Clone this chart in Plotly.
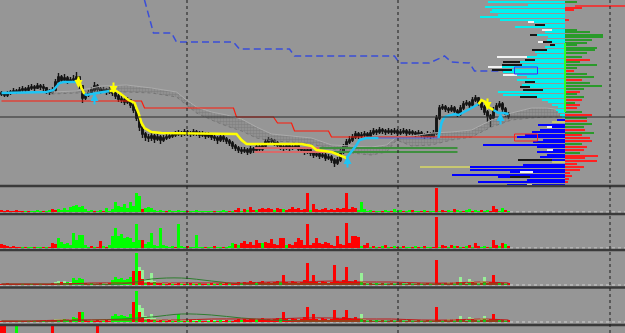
import plotly.graph_objects as go

BG = "#969696"

# ---------------- price bars (price units; bars every 3 time units) ----------------
first_open = 107
closes = [106,105,107,108,109,108,110,111,110,112,
          113,112,114,113,112,109,108,110,118,123,
          120,122,119,120,121,123,114,102,105,107,
          110,114,111,109,110,108,110,107,104,101,
          100,98,100,95,90,82,73,66,63,62,
          64,61,63,60,62,63,64,65,66,67,
          66,68,67,66,68,67,65,66,64,65,
          63,62,60,63,61,59,57,54,52,50,
          49,50,48,51,50,53,51,54,58,60,
          59,57,55,53,52,54,52,53,54,51,
          50,48,50,47,45,46,44,45,42,43,
          40,37,40,48,53,58,60,63,66,64,
          65,66,64,67,69,68,70,69,68,69,
          68,69,67,68,69,67,68,67,66,67,
          65,64,66,64,67,82,92,93,91,90,
          92,89,86,92,96,97,95,100,102,97,
          93,88,84,82,90,94,96,91,86,84]
highs = [109,108,109,110,112,111,113,114,113,115,
         116,115,117,116,116,113,111,113,121,127,
         125,126,124,123,125,128,124,115,107,110,
         113,118,116,113,113,112,113,112,109,106,
         104,102,103,101,97,91,84,75,68,66,
         67,66,66,65,65,66,67,68,69,70,
         69,71,70,69,71,70,69,69,68,68,
         67,66,64,66,65,63,61,59,56,54,
         53,53,52,54,53,56,55,57,61,63,
         62,61,59,57,56,57,56,56,57,56,
         53,52,53,52,49,49,48,48,47,46,
         45,42,43,51,56,61,64,66,69,68,
         68,69,68,70,72,71,73,72,71,72,
         71,72,71,71,72,71,71,70,69,70,
         69,67,69,68,70,85,95,96,95,93,
         95,94,91,95,99,100,99,103,105,103,
         99,95,90,86,93,97,99,98,93,88]
lows = [104,103,103,105,106,106,107,108,107,109,
        110,109,111,110,109,106,105,106,108,116,
        117,118,116,117,118,119,111,97,100,103,
        105,108,108,106,107,105,106,104,101,98,
        97,95,96,92,87,79,69,62,59,58,
        59,57,59,56,58,60,61,62,63,64,
        63,64,64,63,64,64,62,63,61,62,
        60,59,56,58,58,56,54,51,49,47,
        46,47,45,46,47,48,48,49,52,56,
        56,54,52,50,49,50,49,50,51,48,
        47,45,46,44,42,43,41,42,39,40,
        37,33,35,38,46,51,56,58,61,61,
        62,63,61,62,65,65,66,66,65,66,
        65,66,64,65,66,64,65,64,63,64,
        62,61,62,61,62,65,80,90,88,87,
        88,86,83,84,90,94,92,93,98,94,
        90,85,78,73,80,88,92,88,83,81]

# ---------------- volume panes (signed: + green / - red) ----------------
vol1 = [-2,-1,-2,-1,-1,-2,-1,-1,1,-1, 1,1,2,1,-1,1,2,-3,-2,3, 2,4,2,5,6,7,5,6,3,1,
        2,-1,1,2,-1,4,1,3,10,6, 5,8,4,10,6,19,16,-3,4,5, 4,2,1,2,1,-1,2,1,1,2,
        1,1,-1,1,1,2,1,1,1,1, 1,-1,1,1,2,1,-1,1,-2,-4, 1,-3,2,-5,-2,2,-3,-4,-3,-4,
        -3,2,-4,-3,3,-2,-3,-5,-3,-4, -2,-3,-19,2,-8,-3,-2,-3,-4,-2, -3,-2,-4,-3,-4,-19,-3,-5,-4,2,
        10,3,1,2,-1,1,1,-1,2,1, -1,3,1,2,-1,1,2,-2,1,1, -1,2,-1,1,1,-24,1,-2,-1,2,
        1,-3,2,1,-1,2,3,-1,2,1, -2,1,2,-1,-6,-3,1,4,-2,1]
vol2 = [-4,-3,-2,-1,-2,-1,-1,1,-1,1, 1,-1,1,1,-1,1,-1,-5,-4,10, 6,4,5,3,15,8,13,13,3,1,
        -2,1,-1,-7,2,-1,3,12,20,12, 14,10,11,10,6,24,8,-8,4,6, 15,3,2,20,3,2,1,2,-1,24,
        2,1,-2,1,1,13,1,1,-1,1, 1,-2,1,1,-1,1,2,5,-4,3, -5,-7,-4,-6,-3,-8,-5,5,-6,-5,
        -9,-4,-3,-10,-10,3,-4,-3,-6,-10, -8,-3,-24,-3,-5,-10,-5,-4,-6,-5, -3,-2,-12,-4,-3,-25,-5,-12,-12,-11,
        2,-3,-5,1,-2,1,-1,2,-3,1, -1,2,-1,1,-2,1,1,-1,2,-1, 1,-2,1,1,-1,-31,1,-3,-2,1,
        -3,2,-2,1,-1,2,-3,1,-5,-2, 1,2,-1,1,-8,-3,2,-5,4,-2]
vol3 = [-1,-1,-2,-1,-1,-1,-1,1,-1,-1, 1,-1,-1,1,-1,-1,-1,-2,-1,2, -3,2,3,-2,7,5,7,6,-2,-1,
        2,-1,-1,-2,1,-1,-2,5,8,6, 7,5,6,8,-14,32,-14,-6,2,-3, -2,3,-2,-2,1,-1,-2,1,-1,-2,
        1,-1,1,-2,1,-1,2,-1,-1,1, -2,1,-1,2,-1,-2,1,-1,-2,-3, 2,-3,-2,-4,-3,2,-3,-4,-2,-3,
        -2,-3,-4,3,-10,-3,-2,-4,-3,-2, -3,-5,-22,-3,-10,-3,-2,-4,-3,-2, -3,-20,-4,-3,-5,-18,-4,-3,-5,-3,
        3,-2,1,-2,-1,2,-1,-2,1,-1, -2,1,-1,-2,1,-1,-2,1,-1,-2, 1,-1,-2,1,-1,-25,-2,1,-2,-1,
        -2,1,-3,2,-2,-1,2,-3,-2,1, -2,3,-2,-3,-10,-3,2,-2,1,-2]
vol3_light = [1,1,1,1,0,1,1,1,1,1, 1,1,1,1,1,1,1,2,3,4, 3,4,2,3,4,3,4,3,2,2,
              2,2,1,2,2,2,2,3,4,3, 4,3,3,4,5,10,18,15,6,5, 12,4,3,3,2,2,3,2,2,2,
              2,2,2,1,2,2,2,1,1,2, 1,2,1,1,2,1,1,1,2,2, 2,2,2,2,2,3,2,2,2,2,
              2,2,3,2,2,2,2,2,2,2, 2,2,3,2,3,2,2,2,2,2, 2,10,3,2,2,3,2,2,2,3,
              12,3,2,2,2,2,2,2,2,1, 2,2,1,2,2,2,1,2,2,2, 2,2,2,2,2,3,2,2,2,3,
              2,3,3,8,3,3,6,4,3,3, 4,8,3,3,3,3,2,2,2,2]
vol4 = [-1,-1,-1,-1,-1,-1,1,-1,-1,1, -1,1,-1,-1,1,-1,-1,-2,-2,2, -2,3,2,-2,5,4,-10,10,-2,-1,
        1,-1,-2,-1,1,-2,-1,6,8,6, 7,6,5,8,-20,31,-10,-5,2,-3, -2,2,-1,-2,1,-1,-2,1,-1,8,
        1,-1,1,-2,1,-1,2,-1,-1,1, -2,1,-1,2,-1,-2,1,-1,-2,-3, 2,-3,-2,-3,-3,2,-3,-4,-2,-3,
        -2,-3,-4,3,-10,-3,-2,-4,-3,-2, -3,-5,-15,-3,-8,-3,-2,-4,-3,-2, -3,-12,-4,-3,-5,-12,-4,-3,-5,-3,
        3,-2,1,-2,-1,2,-1,-2,1,-1, -2,1,-1,-2,1,-1,-2,1,-1,-2, 1,-1,-2,1,-1,-15,-2,1,-2,-1,
        -2,1,-3,2,-2,-1,2,-3,-2,1, -2,3,-2,-3,-8,-3,2,-2,1,-2]
vol4_light = [1,1,1,1,1,1,1,1,1,1, 1,1,1,1,1,1,1,2,3,3, 3,3,2,3,4,3,4,3,2,2,
              2,2,1,2,2,2,2,3,4,3, 4,3,3,4,5,9,17,14,6,5, 8,4,3,3,2,2,3,2,2,2,
              2,2,2,1,2,2,2,1,1,2, 1,2,1,1,2,1,1,1,2,2, 2,2,2,2,2,3,2,2,2,2,
              2,2,3,2,2,2,2,2,2,2, 2,2,3,2,3,2,2,2,2,2, 2,7,3,2,2,3,2,2,2,3,
              8,3,2,2,2,2,2,2,2,1, 2,2,1,2,2,2,1,2,2,2, 2,2,2,2,2,3,2,2,2,3,
              2,3,3,6,3,3,5,4,3,3, 4,6,3,3,3,3,2,2,2,2]
ma_t = [0,30,60,90,120,150,180,210,240,270,300,330,360,390,420,450,480,507]
ma3_green = [1,1,1,1,1,6,7,4,1,1,1,1,1,1,1,1,1,1]
ma3_red = [1,1,1,2,2,2,2,2,2,3,3,4,3,3,2,2,3,2]
ma4_green = [1,1,1,2,3,5,8,7,4,2,1,1,1,1,1,1,1,1]
ma4_red = [1,1,2,2,2,2,2,3,3,3,4,4,3,3,2,2,3,2]
p5_t = [0, 3, 15, 51, 96]
p5_v = [-8, -8, 8, -8, -8]

# ---------------- indicators on price pane ----------------
cloud_t = [50,75,100,125,150,175,185,195,210,225,240,255,270,290,310,330,350,370,385,395,410,430,450,470,490,510,530,545,560]
cloud_top = [108,109,114,115,112,108,100,93,88,85,81,73,66,64,62,55,54,53,55,63,64,67,68,70,80,87,92,92,90]
cloud_bot = [106,107,108,108,107,103,95,87,80,74,69,62,59,58,56,51,47,45,48,60,54,55,60,63,73,80,82,83,83]

trend_t = [0,45,52,58,62,75, 77,80,83, 85,90,100,108,
           113,118,127,133,137,140,143,150,160,235,240,245,300,310,315,330,337,345,
           350,355,358,365,377, 437, 440,443,453,457,463,470,477, 480,484,487,492, 497,502,507]
trend_p = [107,108,110,117,118,118, 121,112,106, 105,106,108,109,
           110,107,100,97,87,77,72,68,67,66,60,56,56,54,50,48,45,42,
           48,55,60,62,62, 62, 77,83,86,85,88,92,96, 100,98,93,90, 87,87,86]
trend_c = ["c"]*6 + ["y"]*3 + ["c"]*4 + ["y"]*18 + ["c"]*5 + ["b"] + ["c"]*7 + ["y"]*4 + ["c"]*3

arrow_t = [77, 112, 486, 93, 346, 499]
arrow_p = [112, 106, 90, 107, 44, 87]
arrow_up = [False, False, False, True, True, True]

red_t = [0,140,143,232,235,272,276,290,293,327,330,520]
red_p = [99,99,92,92,83,83,77,77,69,69,63,63]
blue_t = [143,152,170,175,232,238,288,293,393,398,428,443,450,468,473,512]
blue_p = [200,167,167,158,158,151,151,144,144,137,137,144,138,137,129,129]
order_levels = [52, 48]
salmon_t = [[253, 318], [253, 332]]
green_t = [[318, 456], [332, 456]]
last_price = 83
separators_t = [185.5, 396.5, 608.5]

# ---------------- volume profile ----------------
prof_p = [198,195.5,193,190.5,188,185.5,183,180.5,178,175.5,173,170.5,168,165.5,163,160.5,158,155.5,153,150.5,
          148,145.5,143,140.5,138,135.5,133,130.5,128,125.5,123,120.5,118,115.5,113,110.5,108,105.5,103,100.5,
          98,95.5,93,90.5,88,85.5,83,80.5,78,75.5,73,70.5,68,65.5,63,60.5,58,55.5,53,50.5,
          48,45.5,43,40.5,38,35.5,33,30.5,28,25.5,23,20.5,18,15.5]
prof_len = [77,37,80,73,75,67,85,65,37,30, 50,23,20,35,17,18,27,15,20,33,
            30,28,68,40,62,63,77,73,62,62, 38,48,40,43,45,42,67,62,45,23,
            17,13,7,9,7,5,3,8,13,27, 18,25,33,40,48,22,32,82,28,18,
            28,18,25,47,13,42,145,95,55,113, 67,38,87,58]
value_split = 82
mark_p = [178,175.5,170.5,165.5,158,158,155.5,150.5,143,140.5,138,135.5,133,130.5,125.5,118,113,110.5,103,78,
          73,50.5,40.5,38,33,28,23,15.5]
mark_base = [31,20,13,28,22,13,10,18,38,30,45,43,63,53,48,30,35,22,28,0,13,12,13,0,95,32,35,33]
mark_len = [6,10,10,7,5,9,5,15,30,10,17,20,14,20,14,10,10,20,17,13,5,6,34,13,50,13,20,5]
mark_col = list("wkwkwkkkwkkkwkwkkkkywwkyywkw")

rp_p = [198,192,190,180,170,168,165,163,160,157,155,152,150,147,143,140,138,135,132,129,
        126,123,120,117,114,111,108,106,103,100,97,95,92,88,85,82,79,76,73,70,
        67,65,62,59,56,53,50,47,44,42,39,36,33,30,27,24,21,18]
rp_len = [12,17,9,4,12,25,38,38,27,22,12,32,30,22,17,25,15,32,12,9,
          22,29,17,25,37,19,15,12,19,17,10,15,12,17,27,22,22,27,19,20,
          29,17,25,27,17,22,19,15,33,20,32,12,19,15,5,7,4,3]
rp_col = list("grrrgggggggggggrgggrggrgggrggrgrrgrgrggrgrrrgrrgrrrrrrrrrr")
poc_span = [88, 157]
high_line = 194

# ---------------- build ----------------
N = len(closes)
bar_time = [3 * i for i in range(N)]
opens = [first_open] + closes[:-1]
GREEN, RED, LIGHT = "#00ff00", "#ff0000", "#98f098"
BW = 2.6

fig = go.Figure()

# Ichimoku-like cloud
fig.add_trace(go.Scatter(x=cloud_t, y=cloud_bot, mode="lines",
                         line=dict(color="#767676", width=1, dash="dot"), hoverinfo="skip"))
fig.add_trace(go.Scatter(x=cloud_t, y=cloud_top, mode="lines",
                         line=dict(color="#ababab", width=1), fill="tonexty",
                         fillcolor="rgba(150,150,150,0)",
                         fillpattern=dict(shape=".", fgcolor="#6e6e6e", bgcolor="rgba(0,0,0,0)",
                                          size=3, solidity=0.6),
                         hoverinfo="skip"))

# order level lines
for lvl, st, gt in zip(order_levels, salmon_t, green_t):
    fig.add_trace(go.Scatter(x=st, y=[lvl, lvl], mode="lines", line=dict(color="#d86a6a", width=2)))
    fig.add_trace(go.Scatter(x=gt, y=[lvl, lvl], mode="lines", line=dict(color="#3f8f3f", width=2)))

# stepped lines
fig.add_trace(go.Scatter(x=red_t, y=red_p, mode="lines", line=dict(color="#ff1a0a", width=1.2)))
fig.add_trace(go.Scatter(x=blue_t, y=blue_p, mode="lines",
                         line=dict(color="#3a4ed8", width=1.5, dash="7px,4px")))

# candles
fig.add_trace(go.Candlestick(x=bar_time, open=opens, high=highs, low=lows, close=closes,
                             increasing=dict(line=dict(color="#141414", width=1.4), fillcolor="#3c3c3c"),
                             decreasing=dict(line=dict(color="#141414", width=1.4), fillcolor="#141414"),
                             whiskerwidth=0, hoverinfo="skip"))

# trend line, coloured by direction
tcol = {"c": "#1ec4f4", "y": "#ffff00", "b": "#4a64e0"}
twid = {"c": 2.5, "y": 2.5, "b": 1.2}
runs = []
for k in range(len(trend_t)):
    if k == 0 or trend_c[k] != trend_c[k - 1]:
        runs.append((trend_c[k], [trend_t[k - 1]] if k else [], [trend_p[k - 1]] if k else []))
    runs[-1][1].append(trend_t[k])
    runs[-1][2].append(trend_p[k])
for c, xs, ys in runs:
    fig.add_trace(go.Scatter(x=xs, y=ys, mode="lines", line=dict(color=tcol[c], width=twid[c])))

# left volume profile
pcols = ["#00f0f0" if p > value_split else "#0000ff" for p in prof_p]
fig.add_trace(go.Bar(orientation="h", y=prof_p, x=prof_len, base=0, width=2.0,
                     marker=dict(color=pcols, line=dict(width=0)), xaxis="x2", yaxis="y"))
mcmap = {"w": "#f2f2f2", "k": "#161616", "y": "#c8c870"}
fig.add_trace(go.Bar(orientation="h", y=mark_p, x=mark_len, base=mark_base, width=1.4,
                     marker=dict(color=[mcmap[c] for c in mark_col], line=dict(width=0)),
                     xaxis="x2", yaxis="y"))
# right profile
fig.add_trace(go.Bar(orientation="h", y=rp_p, x=rp_len, base=0, width=1.8,
                     marker=dict(color=["#2a9a2a" if c == "g" else "#ff2020" for c in rp_col],
                                 line=dict(width=0)), xaxis="x3", yaxis="y"))
fig.add_trace(go.Scatter(x=[0, 0], y=poc_span, mode="lines", line=dict(color="#2cff2c", width=2),
                         xaxis="x3", yaxis="y"))
fig.add_trace(go.Scatter(x=[10, 60], y=[high_line, high_line], mode="lines",
                         line=dict(color="#ff2020", width=1.5), xaxis="x3", yaxis="y"))

# volume panes
def signed_bars(vals, yax):
    fig.add_trace(go.Bar(x=bar_time[:len(vals)], y=[abs(v) for v in vals], width=BW,
                         marker=dict(color=[GREEN if v > 0 else RED for v in vals], line=dict(width=0)),
                         xaxis="x", yaxis=yax))

signed_bars(vol1, "y2")
signed_bars(vol2, "y3")
fig.add_trace(go.Bar(x=bar_time, y=vol3_light, width=BW, marker=dict(color=LIGHT, line=dict(width=0)),
                     xaxis="x", yaxis="y4"))
signed_bars(vol3, "y4")
fig.add_trace(go.Scatter(x=ma_t, y=ma3_green, mode="lines", line=dict(color="#2e7d2e", width=1, shape="spline"),
                         xaxis="x", yaxis="y4"))
fig.add_trace(go.Scatter(x=ma_t, y=ma3_red, mode="lines", line=dict(color="#c01818", width=1, shape="spline"),
                         xaxis="x", yaxis="y4"))
fig.add_trace(go.Bar(x=bar_time, y=vol4_light, width=BW, marker=dict(color=LIGHT, line=dict(width=0)),
                     xaxis="x", yaxis="y5"))
signed_bars(vol4, "y5")
fig.add_trace(go.Scatter(x=ma_t, y=ma4_green, mode="lines", line=dict(color="#2e7d2e", width=1, shape="spline"),
                         xaxis="x", yaxis="y5"))
fig.add_trace(go.Scatter(x=ma_t, y=ma4_red, mode="lines", line=dict(color="#c01818", width=1, shape="spline"),
                         xaxis="x", yaxis="y5"))
fig.add_trace(go.Bar(x=p5_t, y=[abs(v) for v in p5_v], width=BW,
                     marker=dict(color=[GREEN if v > 0 else RED for v in p5_v], line=dict(width=0)),
                     xaxis="x", yaxis="y6"))

# shapes
shapes = []
for yax in ["y2", "y3", "y4", "y5"]:
    shapes.append(dict(type="line", xref="paper", x0=0, x1=1, yref=yax, y0=0, y1=0,
                       line=dict(color="#d0d0d0", width=1, dash="dot"), layer="below"))
shapes.append(dict(type="line", xref="paper", x0=0, x1=1, yref="y", y0=last_price, y1=last_price,
                   line=dict(color="#2a2a2a", width=1.2)))
H = 333
for py in [186, 214, 250, 287.5, 325]:
    shapes.append(dict(type="line", xref="paper", x0=0, x1=1, yref="paper",
                       y0=(H - py) / H, y1=(H - py) / H, line=dict(color="#3a3a3a", width=2.5)))
for t in separators_t:
    shapes.append(dict(type="line", xref="x", x0=t, x1=t, yref="paper", y0=0, y1=1,
                       line=dict(color="#1a1a1a", width=1, dash="dot"), layer="above"))
shapes.append(dict(type="rect", xref="x", yref="y", x0=513, x1=536, y0=59, y1=66,
                   line=dict(color="#ff2020", width=1), fillcolor="rgba(0,0,0,0)"))
shapes.append(dict(type="rect", xref="x", yref="y", x0=513, x1=536, y0=126, y1=133,
                   line=dict(color="#2a3cff", width=1), fillcolor="rgba(0,0,0,0)"))

annotations = []
for t, p, up in zip(arrow_t, arrow_p, arrow_up):
    annotations.append(dict(x=t, y=p, xref="x", yref="y", text="", showarrow=True,
                            ax=0, ay=13 if up else -13, arrowhead=2, arrowsize=0.8, arrowwidth=2,
                            arrowcolor="#1ec4f4" if up else "#ffff00", standoff=0))

ax_off = dict(visible=False, showgrid=False, zeroline=False, fixedrange=True)
fig.update_layout(
    width=625, height=333, margin=dict(l=0, r=0, t=0, b=0),
    paper_bgcolor=BG, plot_bgcolor=BG, showlegend=False,
    barmode="overlay", bargap=0,
    shapes=shapes, annotations=annotations,
    xaxis=dict(range=[-1.5, 623.5], rangeslider=dict(visible=False), **ax_off),
    xaxis2=dict(range=[565, -60], overlaying="x", anchor="y", **ax_off),
    xaxis3=dict(range=[-565, 60], overlaying="x", anchor="y", **ax_off),
    yaxis=dict(domain=[148 / H, 1], range=[15, 200], anchor="x", **ax_off),
    yaxis2=dict(domain=[120 / H, 146 / H], range=[-1, 25], anchor="x", **ax_off),
    yaxis3=dict(domain=[84 / H, 118 / H], range=[-1, 33], anchor="x", **ax_off),
    yaxis4=dict(domain=[47 / H, 82 / H], range=[-1, 34], anchor="x", **ax_off),
    yaxis5=dict(domain=[10 / H, 45 / H], range=[-1, 34], anchor="x", **ax_off),
    yaxis6=dict(domain=[0, 7 / H], range=[0, 7], anchor="x", **ax_off),
)
fig.write_html("out.html")
